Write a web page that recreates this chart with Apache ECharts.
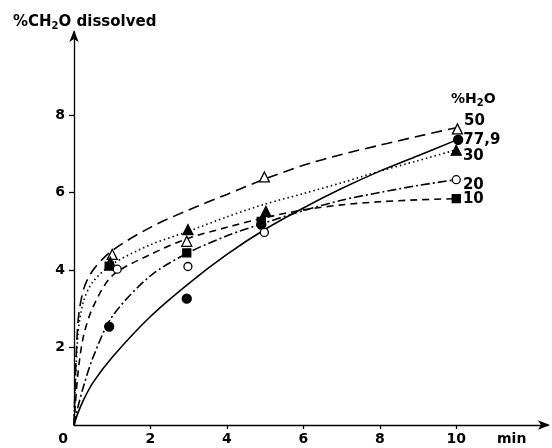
<!DOCTYPE html>
<html>
<head>
<meta charset="utf-8">
<script src="https://cdn.jsdelivr.net/npm/echarts@6/dist/echarts.min.js"></script>
<style>
  html, body { margin: 0; padding: 0; background: #fff; }
  #chart { width: 552px; height: 448px; }
</style>
</head>
<body>
<div id="chart"></div>
<script>
// water content of each run (%H2O), label text shown at the end of each curve
var waterLabels = ['50', '77,9', '30', '20', '10'];

var curveX = [0, 0.1, 0.25, 0.5, 1, 2, 3, 4, 5, 6, 7, 8, 9, 10];

// fitted curves, % CH2O dissolved
var curve50 = [0, 2.6, 3.5, 4.0, 4.5, 5.1, 5.55, 5.95, 6.35, 6.7, 6.98, 7.22, 7.45, 7.67];
var curve779 = [0, 0.3, 0.65, 1.1, 1.75, 2.8, 3.65, 4.4, 5.05, 5.6, 6.1, 6.55, 6.95, 7.35];
var curve30 = [0, 2.3, 3.2, 3.7, 4.15, 4.65, 5.0, 5.37, 5.7, 5.97, 6.25, 6.55, 6.82, 7.1];
var curve20 = [0, 0.45, 1.0, 1.75, 2.8, 3.85, 4.45, 4.88, 5.22, 5.53, 5.8, 6.0, 6.18, 6.33];
var curve10 = [0, 1.3, 2.3, 3.05, 3.85, 4.4, 4.82, 5.1, 5.35, 5.55, 5.68, 5.76, 5.81, 5.84];

// measured points [min, %]
var points50 = [[1.0, 4.4], [2.95, 4.74], [4.98, 6.4], [10.03, 7.64]];
var points779 = [[0.92, 2.54], [2.95, 3.26], [4.9, 5.17], [10.05, 7.36]];
var points30 = [[0.95, 4.2], [2.98, 5.04], [5.02, 5.51], [10.0, 7.09]];
var points20 = [[1.13, 4.02], [2.98, 4.09], [4.98, 4.97], [10.0, 6.33]];
var points10 = [[0.92, 4.1], [2.95, 4.44], [4.9, 5.25], [10.0, 5.84]];

var xTicks = [0, 2, 4, 6, 8, 10];
var yTicks = [2, 4, 6, 8];

var FONT = 'DejaVu Sans';

function pair(xs, ys) {
  return xs.map(function (x, i) { return [x, ys[i]]; });
}

// line dash, marker, fill and label offset for each run
var looks = [
  { curve: curve50, pts: points50, dash: [11, 6], symbol: 'triangle', size: 10, fill: '#fff', off: [-1, -8] },
  { curve: curve779, pts: points779, dash: 'solid', symbol: 'circle', size: 9, fill: '#000', off: [-2, 0] },
  { curve: curve30, pts: points30, dash: [1.5, 3], symbol: 'triangle', size: 10, fill: '#000', off: [-1, 6] },
  { curve: curve20, pts: points20, dash: [9, 3, 2, 3], symbol: 'circle', size: 8, fill: '#fff', off: [0, 5] },
  { curve: curve10, pts: points10, dash: [7, 5], symbol: 'rect', size: 8, fill: '#000', off: [0, 0] }
];

var series = [];
looks.forEach(function (s, i) {
  series.push({
    type: 'line',
    data: pair(curveX, s.curve),
    smooth: 0.3,
    showSymbol: false,
    silent: true,
    lineStyle: { color: '#000', width: 1.6, type: s.dash }
  });
  series.push({
    type: 'scatter',
    data: s.pts,
    symbol: s.symbol,
    symbolSize: s.size,
    z: 5,
    itemStyle: { color: s.fill, borderColor: '#000', borderWidth: 1.3, opacity: 1 },
    label: {
      show: true,
      position: 'right',
      distance: 2,
      offset: s.off,
      formatter: function (p) {
        return p.dataIndex === s.pts.length - 1 ? waterLabels[i] : '';
      },
      color: '#000',
      textBorderWidth: 0,
      fontFamily: FONT,
      fontWeight: 'bold',
      fontSize: 15
    }
  });
});

var chart = echarts.init(document.getElementById('chart'), null, {
  renderer: 'canvas',
  width: 552,
  height: 448
});

chart.setOption({
  animation: false,
  backgroundColor: '#fff',
  title: [{
    text: '%CH{sub|2}O dissolved',
    left: 8,
    top: 8,
    textStyle: {
      color: '#000', fontFamily: FONT, fontWeight: 'bold', fontSize: 15,
      rich: { sub: { fontFamily: FONT, fontWeight: 'bold', fontSize: 10, padding: [8, 0, 0, 0] } }
    }
  }, {
    text: '%H{sub|2}O',
    left: 446,
    top: 85,
    textStyle: {
      color: '#000', fontFamily: FONT, fontWeight: 'bold', fontSize: 14,
      rich: { sub: { fontFamily: FONT, fontWeight: 'bold', fontSize: 10, padding: [8, 0, 0, 0] } }
    }
  }, {
    text: 'min',
    left: 492,
    top: 427,
    textStyle: { color: '#000', fontFamily: FONT, fontWeight: 'bold', fontSize: 14 }
  }],
  grid: { left: 74, top: 32, width: 474, height: 393, containLabel: false },
  xAxis: {
    type: 'value',
    min: 0,
    max: 12.4,
    interval: 2,
    splitLine: { show: false },
    axisLine: {
      lineStyle: { color: '#000', width: 1.3 },
      symbol: ['none', 'arrow'],
      symbolSize: [7, 12],
      symbolOffset: [0, 2]
    },
    axisTick: { customValues: [2, 4, 6, 8, 10], length: 4, lineStyle: { color: '#000', width: 1.3 } },
    axisLabel: {
      customValues: xTicks,
      margin: 7,
      color: '#000',
      fontFamily: FONT,
      fontWeight: 'bold',
      fontSize: 14,
      formatter: function (v) { return v === 0 ? '{z|0}' : String(v); },
      rich: { z: { fontFamily: FONT, fontWeight: 'bold', fontSize: 14, padding: [0, 22, 0, 0] } }
    }
  },
  yAxis: {
    type: 'value',
    min: 0,
    max: 10.14,
    interval: 2,
    splitLine: { show: false },
    axisLine: {
      lineStyle: { color: '#000', width: 1.3 },
      symbol: ['none', 'arrow'],
      symbolSize: [7, 12],
      symbolOffset: [0, 2]
    },
    axisTick: { customValues: yTicks, length: 5, lineStyle: { color: '#000', width: 1.3 } },
    axisLabel: {
      customValues: yTicks,
      margin: 9,
      color: '#000',
      fontFamily: FONT,
      fontWeight: 'bold',
      fontSize: 14
    }
  },
  series: series
});
</script>
</body>
</html>
